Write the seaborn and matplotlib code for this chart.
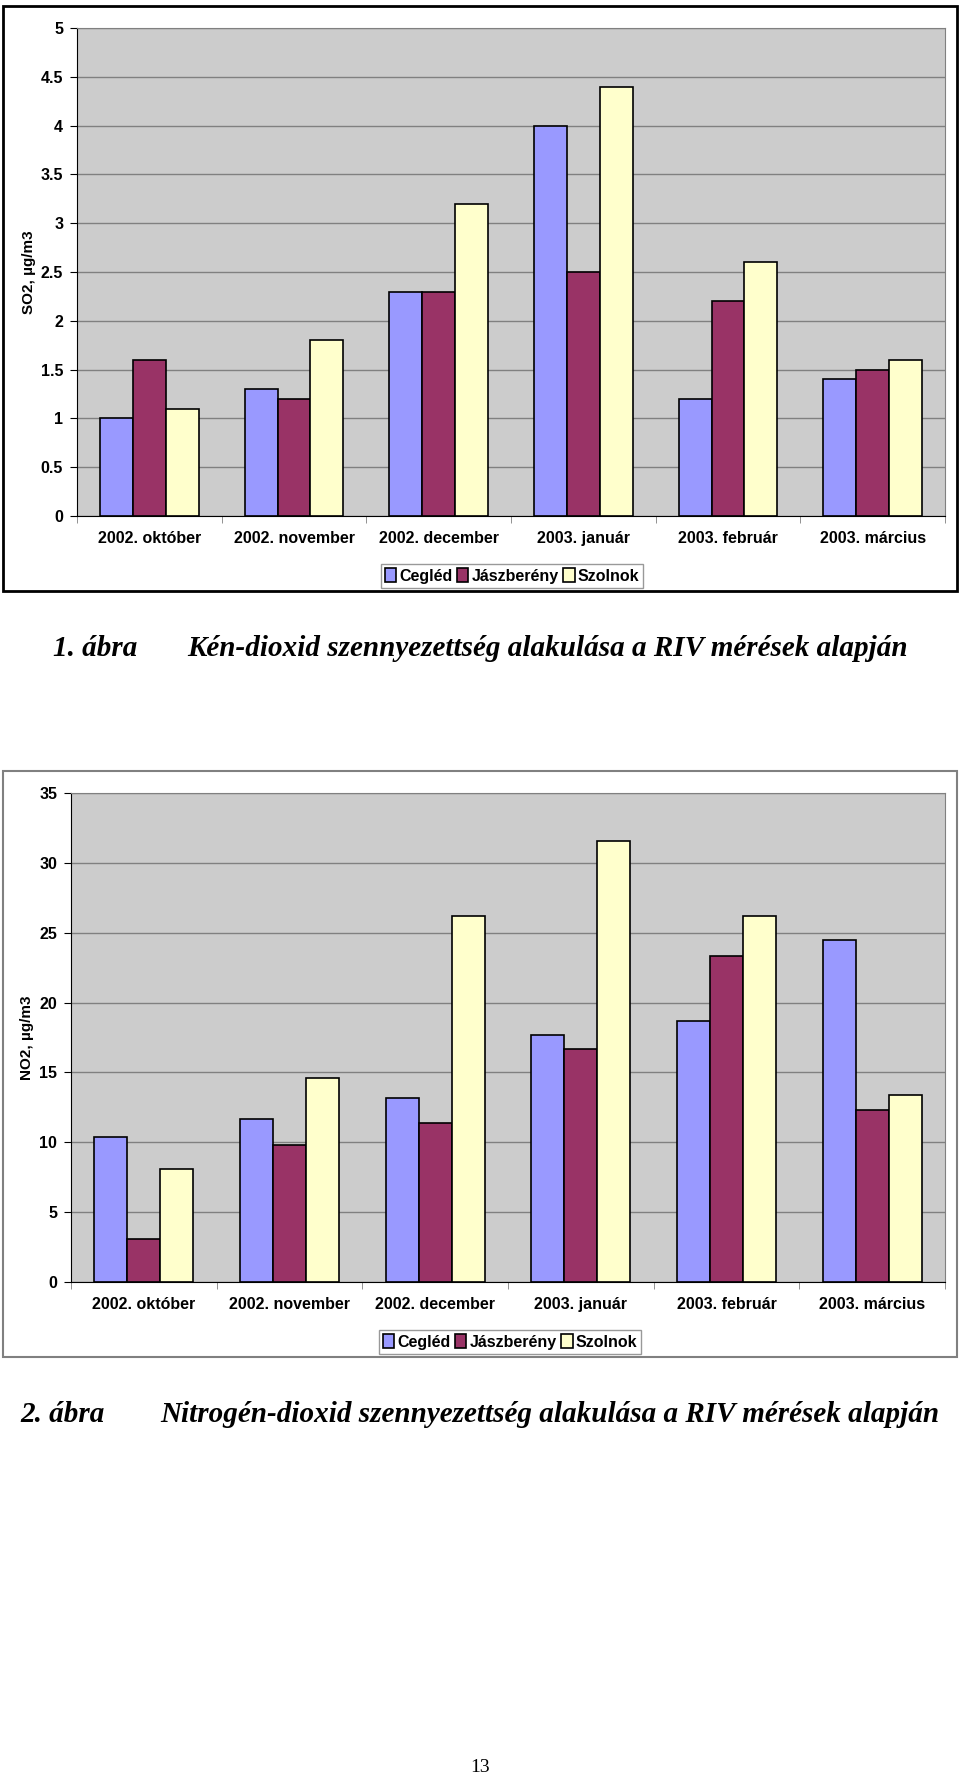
import pandas as pd
import matplotlib.pyplot as plt
import seaborn as sns
from matplotlib.patches import Rectangle

# === ADATOK ===
honapok = ['2002. október', '2002. november', '2002. december',
           '2003. január', '2003. február', '2003. március']
allomasok = ['Cegléd', 'Jászberény', 'Szolnok']
szinek = ['#9999FF', '#993366', '#FFFFCC']

so2_cegled = [1.0, 1.3, 2.3, 4.0, 1.2, 1.4]
so2_jaszbereny = [1.6, 1.2, 2.3, 2.5, 2.2, 1.5]
so2_szolnok = [1.1, 1.8, 3.2, 4.4, 2.6, 1.6]

no2_cegled = [10.4, 11.7, 13.2, 17.7, 18.7, 24.5]
no2_jaszbereny = [3.1, 9.8, 11.4, 16.7, 23.3, 12.3]
no2_szolnok = [8.1, 14.6, 26.2, 31.6, 26.2, 13.4]

so2_ticks = [0, 0.5, 1, 1.5, 2, 2.5, 3, 3.5, 4, 4.5, 5]
so2_ticklabels = ['0', '0.5', '1', '1.5', '2', '2.5', '3', '3.5', '4', '4.5', '5']
no2_ticks = [0, 5, 10, 15, 20, 25, 30, 35]
no2_ticklabels = ['0', '5', '10', '15', '20', '25', '30', '35']


def hosszu_tabla(c, j, s):
    return pd.DataFrame({
        'hónap': honapok * 3,
        'állomás': [allomasok[0]] * 6 + [allomasok[1]] * 6 + [allomasok[2]] * 6,
        'érték': c + j + s,
    })


df_so2 = hosszu_tabla(so2_cegled, so2_jaszbereny, so2_szolnok)
df_no2 = hosszu_tabla(no2_cegled, no2_jaszbereny, no2_szolnok)

plt.rcParams['font.family'] = ['Liberation Sans', 'DejaVu Sans']
plt.rcParams['font.weight'] = 'bold'

fig = plt.figure(figsize=(9.6, 17.8), dpi=100)
W, H = 960, 1780


def rect(x0, y0, x1, y1):
    # pixel koordinatak (felulrol) -> figure koordinatak
    return [x0 / W, 1 - y1 / H, (x1 - x0) / W, (y1 - y0) / H]


def rajzol(ax, df, ticks, ticklabels, ylabel, label_x, leg_xy):
    ax.set_facecolor('#CCCCCC')
    sns.barplot(data=df, x='hónap', y='érték', hue='állomás', palette=szinek,
                edgecolor='black', linewidth=1.2, width=0.68, errorbar=None,
                saturation=1, ax=ax)
    ax.set_xlim(-0.5, 5.5)
    ax.set_ylim(ticks[0], ticks[-1])
    ax.set_yticks(ticks)
    ax.set_yticklabels(ticklabels)
    ax.grid(axis='y', color='#808080', linewidth=1)
    ax.grid(axis='x', visible=False)
    ax.set_axisbelow(True)
    ax.set_xticks([x - 0.5 for x in range(7)], minor=True)
    ax.tick_params(axis='x', which='major', length=0, pad=11, labelsize=11.5)
    ax.tick_params(axis='x', which='minor', length=5, color='#808080')
    ax.tick_params(axis='y', length=5, pad=5, labelsize=11.5)
    ax.set_xlabel('')
    ax.set_ylabel(ylabel, fontsize=11, fontweight='bold')
    ax.yaxis.set_label_coords(label_x, 0.5)
    for s in ['top', 'right']:
        ax.spines[s].set_color('#808080')
    for s in ['left', 'bottom']:
        ax.spines[s].set_color('black')
    handles, labels = ax.get_legend_handles_labels()
    ax.legend(handles, labels, ncol=3, loc='center', bbox_to_anchor=leg_xy,
              bbox_transform=fig.transFigure, fancybox=False, edgecolor='#808080',
              fontsize=11.5, handlelength=0.7, handleheight=0.9, handletextpad=0.2,
              columnspacing=0.3, borderpad=0.25)


# === 1. ABRA: SO2 ===
fig.patches.append(Rectangle((3 / W, 1 - 591 / H), 954 / W, 585 / H, fill=False,
                             edgecolor='black', linewidth=2, transform=fig.transFigure))
ax1 = fig.add_axes(rect(77, 28, 945, 516))
rajzol(ax1, df_so2, so2_ticks, so2_ticklabels, 'SO2, µg/m3', -0.047,
       (512 / W, 1 - 576 / H))

fig.text(53 / W, 1 - 649 / H, '1. ábra', family='Liberation Serif', style='italic',
         weight='bold', fontsize=21, va='center')
fig.text(187 / W, 1 - 649 / H, 'Kén-dioxid szennyezettség alakulása a RIV mérések alapján',
         family='Liberation Serif', style='italic', weight='bold', fontsize=21, va='center')

# === 2. ABRA: NO2 ===
fig.patches.append(Rectangle((3 / W, 1 - 1357 / H), 954 / W, 586 / H, fill=False,
                             edgecolor='#808080', linewidth=1.5, transform=fig.transFigure))
ax2 = fig.add_axes(rect(71, 793, 945, 1282))
rajzol(ax2, df_no2, no2_ticks, no2_ticklabels, 'NO2, µg/m3', -0.042,
       (510 / W, 1 - 1342 / H))

fig.text(20 / W, 1 - 1414 / H, '2. ábra', family='Liberation Serif', style='italic',
         weight='bold', fontsize=21, va='center')
fig.text(160 / W, 1 - 1414 / H, 'Nitrogén-dioxid szennyezettség alakulása a RIV mérések alapján',
         family='Liberation Serif', style='italic', weight='bold', fontsize=21, va='center')

fig.text(480 / W, 1 - 1768 / H, '13', family='Liberation Serif', weight='normal',
         fontsize=14, ha='center', va='center')

plt.savefig('out.png', dpi=100)
